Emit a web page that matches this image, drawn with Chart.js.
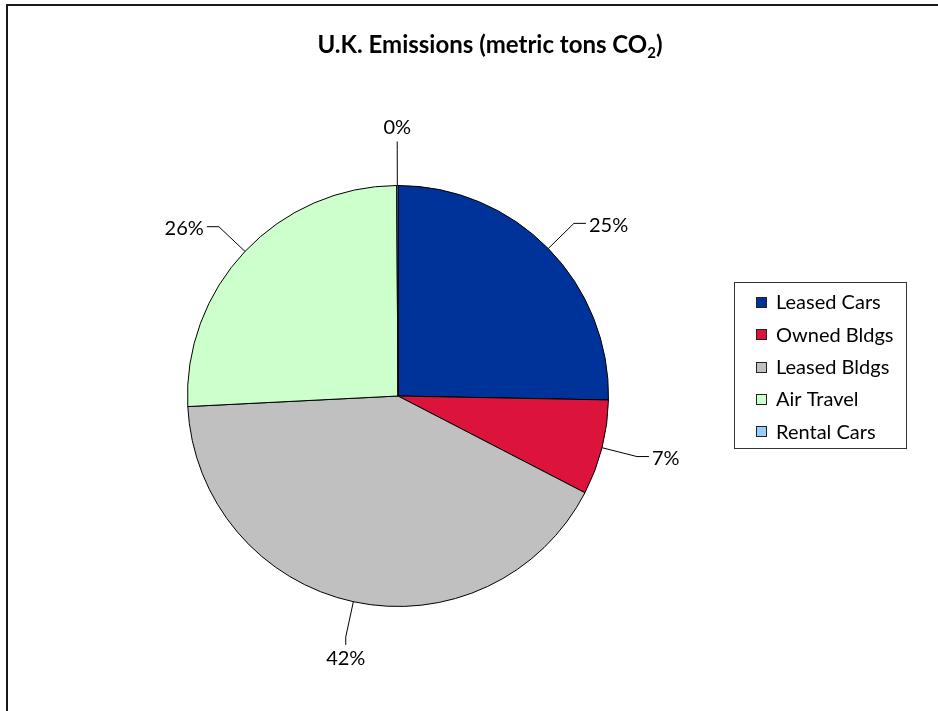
<!DOCTYPE html>
<html>
<head>
<meta charset="utf-8">
<script src="https://cdn.jsdelivr.net/npm/chart.js@4.4.1/dist/chart.umd.min.js"></script>
<style>
  html, body { margin: 0; padding: 0; background: #fff; }
  #wrap { width: 938px; height: 711px; }
</style>
</head>
<body>
<div id="wrap"><canvas id="ukEmissions" width="938" height="711"></canvas></div>
<script>
(function () {
  'use strict';

  var categories = ['Leased Cars', 'Owned Bldgs', 'Leased Bldgs', 'Air Travel', 'Rental Cars'];
  var shares = [25.3, 7.3, 41.6, 25.7, 0.1];
  var sliceColors = ['#003399', '#DC143C', '#C0C0C0', '#CCFFCC', '#99CCFF'];
  var titleMain = 'U.K. Emissions (metric tons CO';
  var titleSub = '2';
  var titleEnd = ')';

  var FONT = 'Lato, "Open Sans", sans-serif';

  // frame round the chart: only its top and left edges fall inside the page
  var framePlugin = {
    id: 'frame',
    beforeDraw: function (chart) {
      var ctx = chart.ctx;
      ctx.save();
      ctx.fillStyle = '#fff';
      ctx.fillRect(0, 0, chart.width, chart.height);
      ctx.strokeStyle = '#1a1a1a';
      ctx.lineWidth = 2;
      ctx.beginPath();
      ctx.moveTo(chart.width + 2, 5);
      ctx.lineTo(7, 5);
      ctx.lineTo(7, chart.height + 2);
      ctx.stroke();
      ctx.restore();
    }
  };

  // title with a real subscript 2
  var titlePlugin = {
    id: 'subTitle',
    afterDraw: function (chart) {
      var ctx = chart.ctx;
      var cx = 490, base = 53;
      var big = 'bold 24px ' + FONT, small = 'bold 15px ' + FONT;
      ctx.save();
      ctx.fillStyle = '#000';
      ctx.textBaseline = 'alphabetic';
      ctx.textAlign = 'left';
      ctx.font = big;
      var w1 = ctx.measureText(titleMain).width;
      var w3 = ctx.measureText(titleEnd).width;
      ctx.font = small;
      var w2 = ctx.measureText(titleSub).width;
      var x = cx - (w1 + w2 + w3) / 2;
      ctx.font = big;
      ctx.fillText(titleMain, x, base);
      ctx.font = small;
      ctx.fillText(titleSub, x + w1, base + 5);
      ctx.font = big;
      ctx.fillText(titleEnd, x + w1 + w2, base);
      ctx.restore();
    }
  };

  // percentage labels with leader lines, placed from each arc's own geometry
  var sliceLabels = {
    id: 'sliceLabels',
    afterDatasetsDraw: function (chart) {
      var ctx = chart.ctx;
      var values = chart.data.datasets[0].data;
      var total = values.reduce(function (a, b) { return a + b; }, 0);
      var arcs = chart.getDatasetMeta(0).data;
      ctx.save();
      ctx.font = '20px ' + FONT;
      ctx.strokeStyle = '#000';
      ctx.fillStyle = '#000';
      ctx.lineWidth = 1;
      arcs.forEach(function (arc, i) {
        var p = arc.getProps(['x', 'y', 'startAngle', 'endAngle', 'outerRadius'], true);
        var mid = (p.startAngle + p.endAngle) / 2;
        var cos = Math.cos(mid), sin = Math.sin(mid);
        var ax = p.x + cos * p.outerRadius, ay = p.y + sin * p.outerRadius;
        var ex = p.x + cos * (p.outerRadius + 36), ey = p.y + sin * (p.outerRadius + 36);
        var text = Math.round(values[i] / total * 100) + '%';
        ctx.beginPath();
        ctx.moveTo(ax, ay);
        ctx.lineTo(ex, ey);
        if (Math.abs(cos) > 0.35) {
          var dir = cos > 0 ? 1 : -1;
          ctx.lineTo(ex + dir * 12, ey);
          ctx.stroke();
          ctx.textAlign = dir > 0 ? 'left' : 'right';
          ctx.textBaseline = 'middle';
          ctx.fillText(text, ex + dir * 15, ey + 2);
        } else {
          var vdir = sin > 0 ? 1 : -1;
          ctx.lineTo(ex, ey + vdir * 8);
          ctx.stroke();
          ctx.textAlign = 'center';
          ctx.textBaseline = vdir > 0 ? 'top' : 'bottom';
          ctx.fillText(text, ex, ey + vdir * 12);
        }
      });
      ctx.restore();
    }
  };

  // boxed legend to the right of the pie
  var boxLegend = {
    id: 'boxLegend',
    afterDraw: function (chart) {
      var ctx = chart.ctx;
      var ds = chart.data.datasets[0];
      var left = 734, top = 282, width = 172, height = 166;
      ctx.save();
      ctx.fillStyle = '#fff';
      ctx.fillRect(left, top, width, height);
      ctx.strokeStyle = '#333';
      ctx.lineWidth = 1;
      ctx.strokeRect(left + 0.5, top + 0.5, width, height);
      ctx.font = '20px ' + FONT;
      ctx.textAlign = 'left';
      ctx.textBaseline = 'middle';
      chart.data.labels.forEach(function (label, i) {
        var y = top + 20 + i * 32.3;
        ctx.fillStyle = ds.backgroundColor[i];
        ctx.fillRect(756, Math.round(y) - 5, 11, 11);
        ctx.strokeStyle = '#222';
        ctx.strokeRect(756.5, Math.round(y) - 4.5, 10, 10);
        ctx.fillStyle = '#000';
        ctx.fillText(label, 776, y + 1);
      });
      ctx.restore();
    }
  };

  var canvas = document.getElementById('ukEmissions');
  new Chart(canvas, {
    type: 'pie',
    plugins: [framePlugin, sliceLabels, titlePlugin, boxLegend],
    data: {
      labels: categories,
      datasets: [{
        data: shares,
        backgroundColor: sliceColors,
        borderColor: '#000',
        borderWidth: 1
      }]
    },
    options: {
      responsive: false,
      devicePixelRatio: 1,
      animation: false,
      layout: { padding: { left: 187, top: 185, right: 329, bottom: 104 } },
      plugins: {
        legend: { display: false },
        title: { display: false },
        tooltip: { enabled: false }
      }
    }
  });
})();
</script>
</body>
</html>
